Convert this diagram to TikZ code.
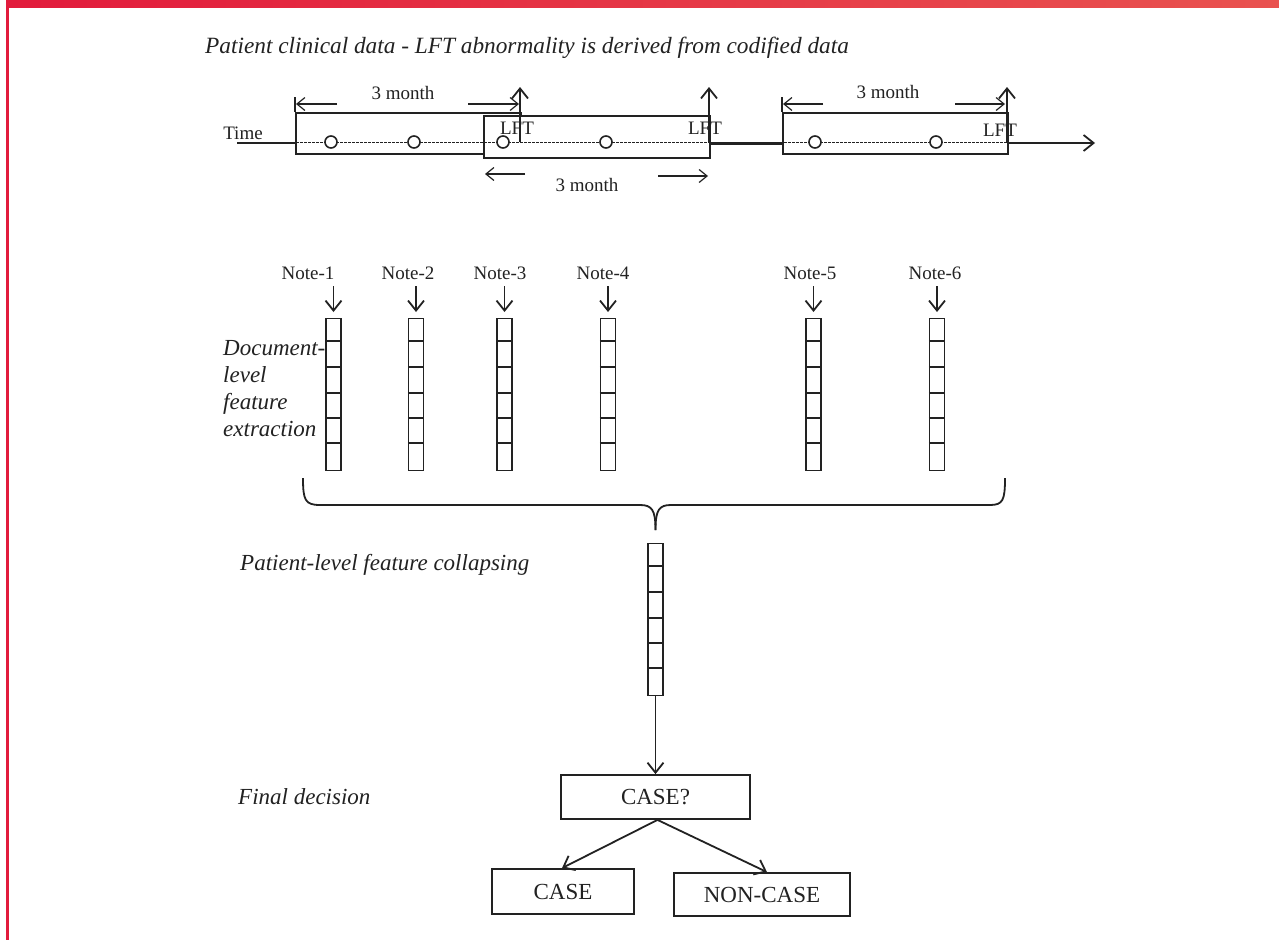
\documentclass[tikz,border=0pt]{standalone}
\usepackage{fontspec}
\setmainfont{Liberation Serif}
\usetikzlibrary{arrows.meta}
\definecolor{ink}{HTML}{222222}
\definecolor{redL}{HTML}{E21B3C}
\definecolor{redR}{HTML}{E9524F}
\tikzset{
  ln/.style={draw=ink, line width=1.8pt},
  arr/.style={ln, -{Straight Barb[length=10pt,width=16pt]}},
  dimarr/.style={draw=ink, line width=1.2pt, -{Straight Barb[length=8pt,width=13pt]}},
  lab/.style={font=\fontsize{19}{21}\selectfont, text=ink, inner sep=0pt},
  ital/.style={font=\fontsize{23}{27}\selectfont\itshape, text=ink, inner sep=0pt},
  boxlab/.style={ln, rectangle, inner sep=0pt, fill=white, font=\fontsize{23}{25}\selectfont, text=ink},
  tbox/.style={ln, rectangle, inner sep=0pt, anchor=north west, fill=white},
  dot/.style={circle, draw=ink, line width=1.6pt, fill=white, minimum size=12pt, inner sep=0pt},
  fvec/.style={draw=ink, line width=1.3pt, rectangle, minimum width=15pt, minimum height=152pt, inner sep=0pt, anchor=north, fill=white},
}
\newcommand\cells[1]{%
  \foreach \d in {23,49,75,100,125}{\draw[ink, line width=1.2pt] ([yshift=-\d pt]#1.north west) -- ([yshift=-\d pt]#1.north east);}}
\begin{document}
\begin{tikzpicture}[x=1pt,y=-1pt]
\useasboundingbox (0,0) rectangle (1279,940);
\fill[white] (0,0) rectangle (1279,940);
% red frame
\shade[left color=redL, right color=redR] (6,0) rectangle (1279,7);
\fill[redL] (6,0) rectangle (9,940);

% title
\node[ital, font=\fontsize{23.3}{27}\selectfont\itshape, anchor=base west] (title) at (205,53) {Patient clinical data - LFT abnormality is derived from codified data};

% timeline boxes
\node[tbox, minimum width=225pt, minimum height=41pt] (b1) at (295,112) {};
\node[tbox, minimum width=226pt, minimum height=42pt] (b2) at (483,115) {};
\node[tbox, minimum width=225pt, minimum height=41pt] (b3) at (782,112) {};

% axis
\coordinate (t0) at (237,143);
\coordinate (tend) at (1095,143);
\draw[draw=ink, line width=1pt, dashed, dash pattern=on 2.5pt off 1.5pt] (288,142) -- (1015,142);
\draw[ln] (t0) -- (b1.west |- t0);
\draw[draw=ink, line width=3pt] (b2.east |- t0) -- (b3.west |- t0);
\draw[arr] (b3.east |- t0) -- (tend);
\node[lab, anchor=base] (time) at (243,139) {Time};

% circles
\node[dot] (c1) at (331,142) {};
\node[dot] (c2) at (414,142) {};
\node[dot] (c3) at (503,142) {};
\node[dot] (c4) at (606,142) {};
\node[dot] (c5) at (815,142) {};
\node[dot] (c6) at (936,142) {};

% LFT labels and arrows
\node[lab, anchor=base] (lft1) at (517,134) {LFT};
\node[lab, anchor=base] (lft2) at (705,134) {LFT};
\node[lab, anchor=base] (lft3) at (1000,136) {LFT};
\coordinate (u1a) at (520,142); \coordinate (u1b) at (520,87);
\coordinate (u2a) at (709,142); \coordinate (u2b) at (709,87);
\coordinate (u3a) at (1007,142); \coordinate (u3b) at (1007,87);
\draw[arr] (u1a) -- (u1b);
\draw[arr] (u2a) -- (u2b);
\draw[arr] (u3a) -- (u3b);

% 3 month dimension arrows
\draw[draw=ink, line width=1.2pt] (b1.north west) -- ++(0,-15);
\draw[draw=ink, line width=1.2pt] (b3.north west) -- ++(0,-15);
\node[lab, anchor=base] (m1) at (403,99) {3 month};
\node[lab, anchor=base] (m2) at (587,191) {3 month};
\node[lab, anchor=base] (m3) at (888,98) {3 month};
\coordinate (d1a) at (337,104); \coordinate (d1b) at (296,104);
\coordinate (d1c) at (468,104); \coordinate (d1d) at (519,104);
\coordinate (d2a) at (525,174); \coordinate (d2b) at (485,174);
\coordinate (d2c) at (658,176); \coordinate (d2d) at (708,176);
\coordinate (d3a) at (823,104); \coordinate (d3b) at (783,104);
\coordinate (d3c) at (955,104); \coordinate (d3d) at (1005,104);
\draw[dimarr] (d1a) -- (d1b);
\draw[dimarr] (d1c) -- (d1d);
\draw[dimarr] (d2a) -- (d2b);
\draw[dimarr] (d2c) -- (d2d);
\draw[dimarr] (d3a) -- (d3b);
\draw[dimarr] (d3c) -- (d3d);

% notes
\node[fvec] (v1) at (333.5,318) {}; \cells{v1}
\node[fvec] (v2) at (416,318) {}; \cells{v2}
\node[fvec] (v3) at (504.5,318) {}; \cells{v3}
\node[fvec] (v4) at (608,318) {}; \cells{v4}
\node[fvec] (v5) at (813.5,318) {}; \cells{v5}
\node[fvec] (v6) at (937,318) {}; \cells{v6}
\node[lab, anchor=base] (n1) at (308,279) {Note-1};
\node[lab, anchor=base] (n2) at (408,279) {Note-2};
\node[lab, anchor=base] (n3) at (500,279) {Note-3};
\node[lab, anchor=base] (n4) at (603,279) {Note-4};
\node[lab, anchor=base] (n5) at (810,279) {Note-5};
\node[lab, anchor=base] (n6) at (935,279) {Note-6};
\foreach \i in {1,...,6}{
  \draw[arr] ([yshift=-7pt]v\i.north |- n\i.south) -- ([yshift=6pt]v\i.north);
}
\node[ital, align=left, anchor=north west] (doc) at (223,340) {Document-\\level\\feature\\extraction};

% brace
\coordinate (brl) at (303,478);
\coordinate (brr) at (1005,478);
\coordinate (brt) at (655.5,530);
\draw[draw=ink, line width=1.8pt] (brl) .. controls (303,500) and (305,505) .. (320,505) -- (640,505) .. controls (652,505) and (655.5,510) .. (brt);
\draw[draw=ink, line width=1.8pt] (brt) .. controls (655.5,510) and (659,505) .. (671,505) -- (990,505) .. controls (1003,505) and (1005,500) .. (brr);

% collapsed vector
\node[fvec] (cv) at (655.5,543) {}; \cells{cv}
\node[ital, anchor=base west] (plc) at (240,570) {Patient-level feature collapsing};

% decision
\node[ital, anchor=base west] (fd) at (238,804) {Final decision};
\node[boxlab, minimum width=189pt, minimum height=44pt] (caseq) at (655.5,797) {CASE?};
\node[boxlab, minimum width=142pt, minimum height=45pt] (case) at (563,891.5) {CASE};
\node[boxlab, minimum width=176pt, minimum height=43pt] (noncase) at (762,894.5) {NON-CASE};
\draw[arr] (cv.south) -- (caseq.north);
\draw[arr] ([xshift=2pt]caseq.south) -- ([xshift=-1pt]case.north);
\draw[arr] ([xshift=2pt]caseq.south) -- ([xshift=5pt]noncase.north);
\end{tikzpicture}
\end{document}
